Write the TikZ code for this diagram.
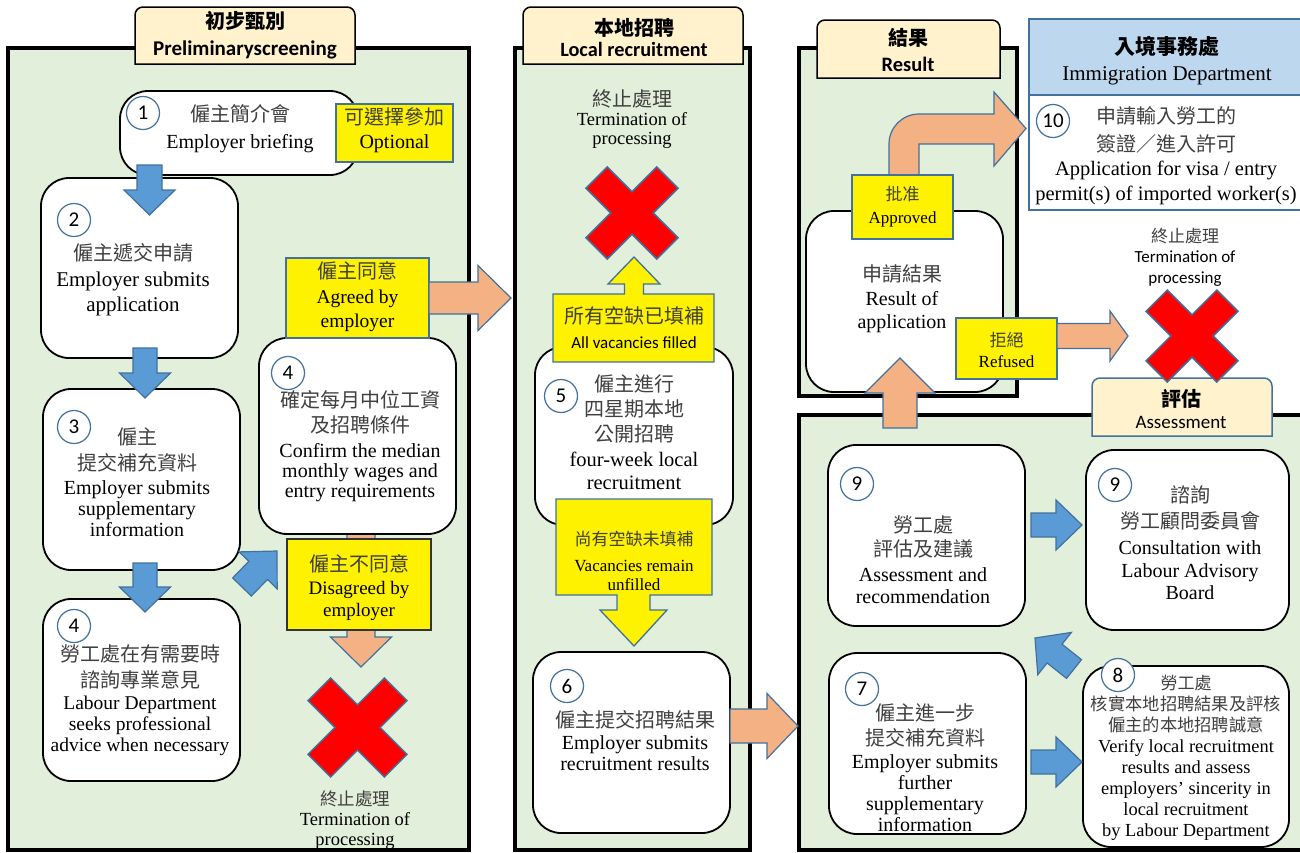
\documentclass[tikz,border=0pt]{standalone}
\usepackage{fontspec}
\setmainfont{Liberation Serif}
\newfontfamily\cjk{Noto Sans CJK TC}
\newfontfamily\calfont{Carlito}
\usetikzlibrary{calc,fit}
\definecolor{panelg}{HTML}{E2EFDA}
\definecolor{cream}{HTML}{FFF2CC}
\definecolor{bluebd}{HTML}{41719C}
\definecolor{bluefill}{HTML}{5B9BD5}
\definecolor{orangef}{HTML}{F4B183}
\definecolor{immblue}{HTML}{BDD7EE}
\definecolor{zhgray}{HTML}{404040}
\newcommand{\zh}[1]{{\cjk\color{zhgray}#1}}
\newcommand{\fsz}[2]{\fontsize{#1}{#2}\selectfont}
\newcommand{\blockarr}[6]{%
  \coordinate (baH) at ($(#3)!#6!(#2)$);
  \draw[#1] ($(#2)!#4!90:(#3)$) -- ($(baH)!#4!90:(#3)$) -- ($(baH)!#5!90:(#3)$) -- (#3) -- ($(baH)!#5!-90:(#3)$) -- ($(baH)!#4!-90:(#3)$) -- ($(#2)!#4!-90:(#3)$) -- cycle;}
\newcommand{\redx}[4]{\draw[xmark, shift={(#1,#2)}, rotate=45] (-#3,-#4) -- (#3,-#4) -- (#3,-#3) -- (#4,-#3) -- (#4,#3) -- (#3,#3) -- (#3,#4) -- (-#3,#4) -- (-#3,#3) -- (-#4,#3) -- (-#4,-#3) -- (-#3,-#3) -- cycle;}
\newcommand{\hdrbox}[5]{\draw[#5] (#1,#4) -- (#1,#2+8) to[out=90,in=180] (#1+8,#2) -- (#3-8,#2) to[out=0,in=90] (#3,#2+8) -- (#3,#4) -- cycle;}
\tikzset{
 panel/.style={fill=panelg, draw=black, line width=4pt},
 hdr/.style={fill=cream, draw=black, line width=1.5pt},
 hdrb/.style={fill=cream, draw=bluebd, line width=1.5pt},
 box/.style={draw=black, fill=white, line width=1.8pt, rounded corners=28pt, inner sep=0pt},
 ybox/.style={draw=bluebd, fill=yellow, line width=1.3pt, inner sep=0pt},
 numc/.style={circle, draw=bluebd, fill=white, line width=1.2pt, minimum size=33pt, inner sep=0pt, font=\calfont\fsz{21}{21}},
 tx/.style={align=center, inner sep=0pt, font=\fsz{20}{21}},
 barr/.style={fill=bluefill, draw=bluebd, line width=1.2pt},
 oarr/.style={fill=orangef, draw=bluebd, line width=1.2pt},
 xmark/.style={fill=red, draw=bluebd, line width=1.5pt},
}
\begin{document}
\begin{tikzpicture}[x=1pt,y=-1pt]
\useasboundingbox (0,0) rectangle (1300,852);
\clip (0,0) rectangle (1300,852);
% panels
\draw[panel] (8,48) rectangle (469,850);
\draw[panel] (515,48) rectangle (750,850);
\draw[panel] (799,48) rectangle (1017,396);
\draw[panel] (799,415) rectangle (1320,850);
% headers
\hdrbox{135}{7}{355}{64}{hdr}
\hdrbox{523}{7}{743}{64}{hdr}
\hdrbox{817}{20}{1000}{78}{hdr}
\hdrbox{1092}{378}{1272}{436}{hdrb}
\node[tx, font=\fsz{20}{27}] (h1) at (245,35.5) {{\cjk\bfseries 初步甄別}\\{\calfont\bfseries\fsz{21}{27}Preliminaryscreening}};
\node[tx, font=\fsz{20}{21.5}] (h2) at (634,37.5) {{\cjk\bfseries 本地招聘}\\{\calfont\bfseries\fsz{20.3}{21.5}Local recruitment}};
\node[tx, font=\fsz{20}{26}] (h3) at (908,50) {{\cjk\bfseries 結果}\\{\calfont\bfseries\fsz{20.5}{26}Result}};
\node[tx, font=\fsz{20}{22}] (h4) at (1181,409) {{\cjk\bfseries 評估}\\{\calfont\fsz{19}{22}Assessment}};
% immigration
\node[fit={(1029,19) (1320,95)}, draw=bluebd, fill=immblue, line width=1.5pt, inner sep=0pt] (imm) {};
\node[fit={(1029,95) (1320,210)}, draw=bluebd, fill=white, line width=1.5pt, inner sep=0pt] (b10) {};
\node[tx, font=\fsz{21}{26}] (timm) at (1167,61) {{\cjk\bfseries 入境事務處}\\Immigration Department};
% orange arrow behind disagreed box
\coordinate (od1) at (361,520); \coordinate (od2) at (361,667);
\blockarr{oarr}{od1}{od2}{14pt}{30.5pt}{30pt}
% bent arrow approved -> immigration
\draw[oarr] (889,180) -- (889,144) to[out=90,in=180] (919,114) -- (994,114) -- (994,92) -- (1026,128.5) -- (994,166) -- (994,144) -- (919,144) -- (919,180) -- cycle;
% boxes
\node[box, fit={(120,91) (358,175)}] (b1) {};
\node[box, fit={(41,178) (238,358)}] (b2) {};
\node[box, fit={(43,389) (240,570)}] (b3) {};
\node[box, fit={(43,599) (240,781)}] (b4l) {};
\node[box, fit={(259,338) (456,534)}] (b4c) {};
\node[box, fit={(535,347) (733,525)}] (b5) {};
\node[box, fit={(533,652) (730,833)}] (b6) {};
\node[box, fit={(806,211) (1003,392)}] (bres) {};
\node[box, fit={(828,445) (1025,626)}] (b9l) {};
\node[box, fit={(1086,450) (1289,630)}] (b9r) {};
\node[box, fit={(829,653) (1026,834)}] (b7) {};
\node[box, fit={(1083,666) (1289,847)}] (b8) {};
% number circles
\node[numc] (c1) at (143,113) {1};
\node[numc] (c2) at (74,220) {2};
\node[numc] (c3) at (74,427) {3};
\node[numc] (c4l) at (74,626) {4};
\node[numc] (c4c) at (288,373) {4};
\node[numc] (c5) at (561,396) {5};
\node[numc] (c6) at (567,686) {6};
\node[numc] (c10) at (1053,121) {10};
\node[numc] (c9l) at (857,484) {9};
\node[numc] (c9r) at (1115,485) {9};
\node[numc] (c7) at (862,689) {7};
\node[numc] (c8) at (1118,675) {8};
% texts in boxes
\node[tx, font=\fsz{20}{27}] (t1) at (240,128.5) {\zh{僱主簡介會}\\Employer briefing};
\node[tx, font=\fsz{21}{25.5}] (t2) at (133,280) {\zh{\fsz{20}{25.5}僱主遞交申請}\\Employer submits\\application};
\node[tx, font=\fsz{20}{21}] (t3) at (137,482) {\zh{僱主}\\[5pt]\zh{提交補充資料}\\[3pt]Employer submits\\supplementary\\information};
\node[tx, font=\fsz{19.5}{21}] (t4l) at (140,700) {\zh{\fsz{20}{21}勞工處在有需要時}\\[5pt]\zh{\fsz{20}{21}諮詢專業意見}\\[1pt]Labour Department\\seeks professional\\advice when necessary};
\node[tx, font=\fsz{20}{20}] (t4c) at (360,446) {\zh{確定每月中位工資}\\[5pt]\zh{及招聘條件}\\[5pt]Confirm the median\\monthly wages and\\entry requirements};
\node[tx, font=\fsz{18.5}{20}] (term1) at (355,820) {\zh{\fsz{17.5}{20}終止處理}\\Termination of\\processing};
\node[tx, font=\fsz{18.5}{19}] (term2) at (632,119) {\zh{\fsz{20}{19}終止處理}\\Termination of\\processing};
\node[tx, font=\fsz{20.5}{25}] (t5) at (634,432) {\zh{\fsz{20}{25}僱主進行}\\\zh{\fsz{20}{25}四星期本地}\\\zh{\fsz{20}{25}公開招聘}\\four-week local\\[-2pt]recruitment};
\node[tx, font=\fsz{20}{21.5}] (t6) at (635,741) {\zh{僱主提交招聘結果}\\Employer submits\\recruitment results};
\node[tx, font=\fsz{20}{23.5}] (tres) at (902,299) {\zh{申請結果}\\Result of\\application};
\node[tx, font=\fsz{20.5}{24.5}] (t10) at (1166,155.5) {\zh{\fsz{20}{24.5}申請輸入勞工的}\\[3.5pt]\zh{\fsz{20}{24.5}簽證／進入許可}\\Application for visa / entry\\permit(s) of imported worker(s)};
\node[tx, font=\calfont\fsz{17}{20.5}] (term3) at (1185,257) {\zh{終止處理}\\Termination of\\processing};
\node[tx, font=\fsz{20}{22}] (t9l) at (923,560) {\zh{勞工處}\\[2pt]\zh{評估及建議}\\[3pt]Assessment and\\recommendation};
\node[tx, font=\fsz{20}{22.5}] (t9r) at (1190,543) {\zh{諮詢}\\[3.5pt]\zh{勞工顧問委員會}\\[3.5pt]Consultation with\\Labour Advisory\\Board};
\node[tx, font=\fsz{20}{21}] (t7) at (925,768) {\zh{僱主進一步}\\[4pt]\zh{提交補充資料}\\[2pt]Employer submits\\further\\supplementary\\information};
\node[tx, font=\fsz{18.4}{21}] (t8) at (1186,758) {\zh{\fsz{17}{21}勞工處}\\\zh{\fsz{17.3}{21}核實本地招聘結果及評核}\\\zh{\fsz{17.3}{21}僱主的本地招聘誠意}\\Verify local recruitment\\results and assess\\employers’ sincerity in\\local recruitment\\by Labour Department};
% yellow boxes
\node[ybox, fit={(336,104) (453,162)}] (yopt) {};
\node[tx, font=\fsz{20}{24}] (topt) at (394.5,130) {\zh{可選擇參加}\\Optional};
\node[ybox, fit={(286,258) (429,338)}] (yagr) {};
\node[tx, font=\fsz{19.5}{24.5}] (tagr) at (357.5,297) {\zh{\fsz{20}{24.5}僱主同意}\\Agreed by\\employer};
\node[ybox, draw=black!80, fit={(287,539) (431,630)}] (ydis) {};
\node[tx, font=\fsz{19}{22.5}] (tdis) at (359,588) {\zh{\fsz{20}{22.5}僱主不同意}\\Disagreed by\\employer};
\node[ybox, fit={(852,175) (953,239)}] (yapp) {};
\node[tx, font=\fsz{17}{23}] (tapp) at (902.5,207) {\zh{批准}\\Approved};
\node[ybox, fit={(956,318) (1057,379)}] (yref) {};
\node[tx, font=\fsz{17}{21}] (tref) at (1006.5,350) {\zh{拒絕}\\Refused};
% callouts
\draw[ybox] (553,294) -- (624.5,294) -- (624.5,284) -- (608,284) -- (634,257) -- (660,284) -- (643.5,284) -- (643.5,294) -- (714,294) -- (714,362) -- (553,362) -- cycle;
\node[tx, font=\fsz{20}{25}] (tfill) at (634,328) {\zh{所有空缺已填補}\\{\calfont\fsz{17}{25}All vacancies filled}};
\draw[ybox] (556,499) -- (712,499) -- (712,595) -- (650,595) -- (650,610) -- (667,610) -- (634,646) -- (600,610) -- (617,610) -- (617,595) -- (556,595) -- cycle;
\node[tx, font=\fsz{17}{19}] (tvac) at (634,561) {\zh{尚有空缺未填補}\\[7pt]Vacancies remain\\unfilled};
% blue arrows
\coordinate (a12s) at (149.5,165); \coordinate (a12e) at (149.5,215);
\blockarr{barr}{a12s}{a12e}{12.5pt}{25.5pt}{25pt}
\coordinate (a23s) at (145,348); \coordinate (a23e) at (145,398);
\blockarr{barr}{a23s}{a23e}{12pt}{25.5pt}{25pt}
\coordinate (a34s) at (145,563); \coordinate (a34e) at (145,612);
\blockarr{barr}{a34s}{a34e}{12pt}{25.5pt}{25pt}
\coordinate (a3ds) at (242,587); \coordinate (a3de) at (277,551);
\blockarr{barr}{a3ds}{a3de}{13pt}{26.5pt}{27pt}
\coordinate (a9s) at (1031,525); \coordinate (a9e) at (1082,525);
\blockarr{barr}{a9s}{a9e}{12pt}{25pt}{26pt}
\coordinate (a78s) at (1031,762); \coordinate (a78e) at (1082,762);
\blockarr{barr}{a78s}{a78e}{12pt}{25pt}{26pt}
\coordinate (a89s) at (1074,669); \coordinate (a89e) at (1035,638);
\blockarr{barr}{a89s}{a89e}{12pt}{27pt}{25pt}
% orange arrows
\coordinate (oas) at (429,298); \coordinate (oae) at (511,298);
\blockarr{oarr}{oas}{oae}{16pt}{32.5pt}{33pt}
\coordinate (o6s) at (730,726); \coordinate (o6e) at (798,726);
\blockarr{oarr}{o6s}{o6e}{17pt}{32.5pt}{31pt}
\coordinate (ors) at (1057,336); \coordinate (ore) at (1128,336);
\blockarr{oarr}{ors}{ore}{12.5pt}{25pt}{18pt}
\coordinate (ous) at (900,428); \coordinate (oue) at (900,358);
\blockarr{oarr}{ous}{oue}{17pt}{35pt}{35pt}
% red crosses
\redx{357.5}{727.5}{16}{54}
\redx{632}{213}{15}{50}
\redx{1192}{336}{15}{50}
\end{tikzpicture}
\end{document}
